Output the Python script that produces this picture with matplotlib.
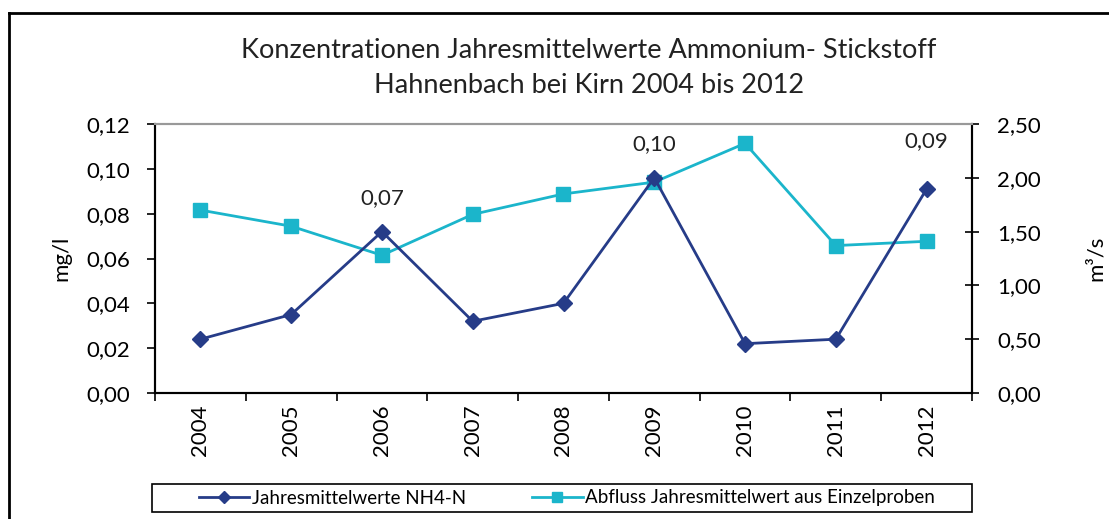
import matplotlib.pyplot as plt
from matplotlib.patches import Rectangle
from matplotlib.lines import Line2D

plt.rcParams['font.family'] = ['Lato', 'DejaVu Sans']

# data
years = ["2004", "2005", "2006", "2007", "2008", "2009", "2010", "2011", "2012"]
nh4 = [0.024, 0.035, 0.072, 0.032, 0.040, 0.096, 0.022, 0.024, 0.091]
abfluss = [1.70, 1.55, 1.28, 1.66, 1.85, 1.96, 2.32, 1.37, 1.41]
labelled = [2, 5, 8]  # points with a value label

navy = "#263C88"
cyan = "#1BB5CB"

fig = plt.figure(figsize=(11.09, 5.19), dpi=100)
ax = fig.add_axes([155/1109, 1-393/519, 817/1109, 269/519])
ax2 = ax.twinx()

x = list(range(len(years)))
ax.plot(x, nh4, color=navy, lw=2, marker="D", ms=8, zorder=3)
ax2.plot(x, abfluss, color=cyan, lw=2, marker="s", ms=10, zorder=2)
ax.set_zorder(ax2.get_zorder() + 1)
ax.patch.set_visible(False)

for i in labelled:
    ax.annotate(f"{nh4[i]:.2f}".replace(".", ","), (x[i], nh4[i]),
                xytext=(0, 17 if i != 8 else 27), textcoords="offset points",
                ha="center", va="bottom", fontsize=16, color="#222222")

ax.set_xlim(-0.5, len(years) - 0.5)
ax.set_ylim(0, 0.12)
ax2.set_ylim(0, 2.5)
ax.set_yticks([i * 0.02 for i in range(7)])
ax.set_yticklabels([f"{i*0.02:.2f}".replace(".", ",") for i in range(7)], fontsize=16)
ax2.set_yticks([i * 0.5 for i in range(6)])
ax2.set_yticklabels([f"{i*0.5:.2f}".replace(".", ",") for i in range(6)], fontsize=16)
ax.set_xticks(x)
ax.set_xticklabels(years, rotation=90, fontsize=16)
ax.set_xticks([i - 0.5 for i in range(len(years) + 1)], minor=True)
ax.tick_params(axis="x", which="major", length=0, pad=8)
ax.tick_params(axis="x", which="minor", length=6, width=1.2, direction="out")
ax.tick_params(axis="y", length=6, width=1.2, direction="out", pad=12)
ax2.tick_params(axis="y", length=10, width=1.2, direction="inout", pad=13)

for a in (ax, ax2):
    a.spines["top"].set_color("#999999")
    a.spines["top"].set_linewidth(1.5)
    for s in ("left", "right", "bottom"):
        a.spines[s].set_linewidth(1.5)

ax.set_ylabel("mg/l", fontsize=16)
ax.yaxis.set_label_coords((71 - 155) / 817, 0.5)
ax2.set_ylabel("m³/s", fontsize=16)
ax2.yaxis.set_label_coords((1086 - 155) / 817, 0.5)

fig.text(0.531, 1 - 68/519, "Konzentrationen Jahresmittelwerte Ammonium- Stickstoff\nHahnenbach bei Kirn 2004 bis 2012",
         ha="center", va="center", fontsize=19.5, linespacing=1.5, color="#222222")

# outer chart border (left and top visible)
fig.add_artist(Line2D([9/1109, 9/1109], [0, 1-13/519], transform=fig.transFigure, color="black", lw=2))
fig.add_artist(Line2D([9/1109, 1], [1-13/519, 1-13/519], transform=fig.transFigure, color="black", lw=2))

# legend box
fig.add_artist(Rectangle((152/1109, 1-512/519), 820/1109, 28/519, transform=fig.transFigure,
                         fill=False, edgecolor="black", lw=1.2))
handles = [Line2D([], [], color=navy, lw=2, marker="D", ms=6),
           Line2D([], [], color=cyan, lw=2, marker="s", ms=7)]
fig.legend(handles, ["Jahresmittelwerte NH4-N", "Abfluss Jahresmittelwert aus Einzelproben"],
           loc="center", bbox_to_anchor=(567/1109, 1-498/519), ncol=2, frameon=False,
           fontsize=13.5, handlelength=2.7, columnspacing=3.5, handletextpad=0.15)

fig.savefig("out.png", dpi=100)
